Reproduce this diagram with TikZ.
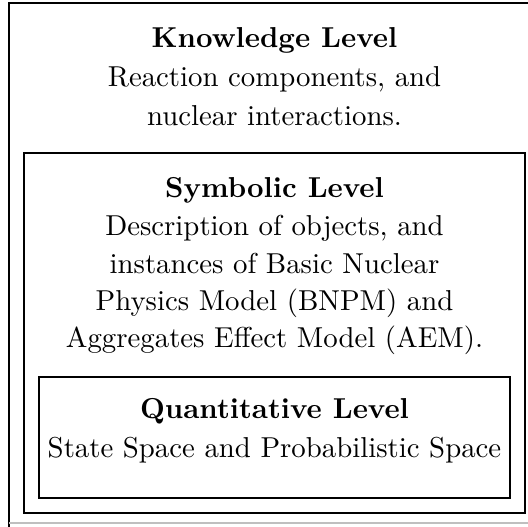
\documentclass[tikz,border=0pt]{standalone}
\begin{document}
\begin{tikzpicture}[x=0.3472pt,y=-0.3472pt,
  box/.style={draw=black,line width=0.8pt},
  title/.style={anchor=base,inner sep=0pt,font=\bfseries},
  txt/.style={anchor=base,inner sep=0pt}]
\useasboundingbox (0,0) rectangle (528,527);
\clip (0,0) rectangle (528,527);
\fill[white] (0,0) rectangle (528,527);
% outer box (right side runs off the picture)
\draw[box] (9,530) -- (9,3) -- (560,3);
\draw[black!25,line width=0.5pt] (9,523) -- (560,523);
% inner boxes
\draw[box] (24,153) rectangle (525,513);
\draw[box] (39,377) rectangle (510,498);
% Knowledge level
\node[title] (k0) at (274.5,48) {Knowledge Level};
\node[txt] (k1) at (274.5,87) {Reaction components, and};
\node[txt] (k2) at (274.5,126) {nuclear interactions.};
% Symbolic level
\node[title] (s0) at (274.5,198) {Symbolic Level};
\node[txt] (s1) at (274.5,236) {Description of objects, and};
\node[txt] (s2) at (274.5,274) {instances of Basic Nuclear};
\node[txt] (s3) at (274.5,311) {Physics Model (BNPM) and};
\node[txt] (s4) at (274.5,348) {Aggregates Effect Model (AEM).};
% Quantitative level
\node[title] (q0) at (274.5,419) {Quantitative Level};
\node[txt] (q1) at (274.5,458) {State Space and Probabilistic Space};
\end{tikzpicture}
\end{document}
